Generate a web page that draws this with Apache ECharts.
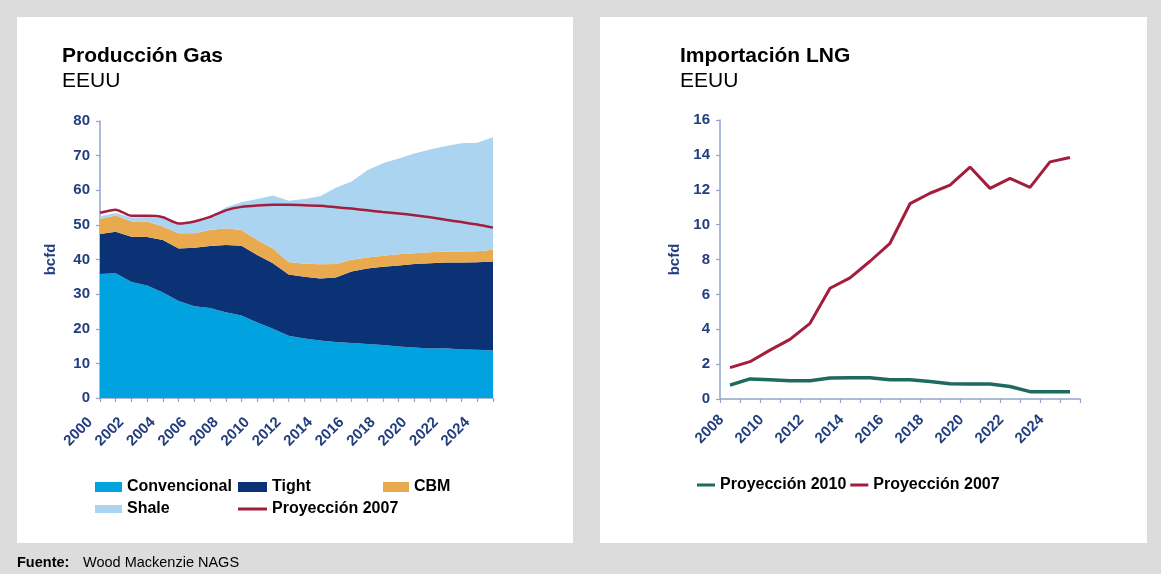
<!DOCTYPE html>
<html><head><meta charset="utf-8">
<script src="https://cdn.jsdelivr.net/npm/echarts@6/dist/echarts.min.js"></script>
<style>
html,body{margin:0;padding:0;background:#dcdcdc;}
#wrap{position:relative;width:1161px;height:574px;overflow:hidden;background:#dcdcdc;}
.panel{position:absolute;background:#fff;}
#chart{position:absolute;left:0;top:0;width:1161px;height:574px;}
</style></head><body>
<div id="wrap">
<div class="panel" style="left:17px;top:17px;width:556px;height:526px"></div>
<div class="panel" style="left:600px;top:17px;width:547px;height:526px"></div>
<div id="chart"></div>
</div>
<script>
// ---- data ----
const prodYears = ['2000','2001','2002','2003','2004','2005','2006','2007','2008','2009','2010','2011','2012','2013','2014','2015','2016','2017','2018','2019','2020','2021','2022','2023','2024','2025'];
const convencional = [35.8,36.0,33.5,32.5,30.5,28.0,26.5,26.0,24.8,23.8,21.8,20.0,18.0,17.2,16.6,16.2,15.9,15.6,15.3,14.9,14.6,14.3,14.4,14.0,13.9,13.7];
const tight = [11.6,12.0,13.1,14.0,15.1,15.2,16.9,17.9,19.4,20.2,19.5,18.9,17.7,17.8,17.9,18.6,20.6,21.8,22.6,23.4,24.1,24.6,24.7,25.1,25.3,25.7];
const cbm = [4.3,4.7,4.4,4.5,3.9,4.4,4.2,4.6,4.8,4.5,4.3,4.3,3.6,3.8,4.1,3.9,3.4,3.2,3.2,3.2,3.1,3.2,3.2,3.2,3.2,3.4];
const shale = [0.7,0.7,1.1,1.3,2.4,2.6,3.3,3.9,6.0,8.0,11.9,15.3,17.7,18.7,19.7,22.0,22.6,25.2,26.7,27.7,28.8,29.7,30.5,31.3,31.3,32.5];
const proy2007Prod = [53.5,54.4,52.6,52.6,52.2,50.4,51.0,52.3,54.2,55.2,55.6,55.8,55.8,55.7,55.5,55.1,54.7,54.2,53.7,53.3,52.8,52.2,51.5,50.8,50.1,49.2];

const lngYears = ['2008','2009','2010','2011','2012','2013','2014','2015','2016','2017','2018','2019','2020','2021','2022','2023','2024','2025'];
const lng2010 = [0.8,1.15,1.1,1.05,1.05,1.2,1.22,1.22,1.1,1.1,1.0,0.88,0.86,0.86,0.72,0.42,0.42,0.42];
const lng2007 = [1.8,2.14,2.8,3.42,4.34,6.35,6.95,7.9,8.93,11.2,11.8,12.27,13.3,12.08,12.65,12.14,13.6,13.85];

const prodTicks = [0,10,20,30,40,50,60,70,80];
const lngTicks = [0,2,4,6,8,10,12,14,16];

// ---- styles ----
const FONT = '"Liberation Sans", Arial, Helvetica, sans-serif';
const AXIS_TXT = '#233e7e';
const AXIS_LINE = '#8fa5cb';
const C_CONV = '#00a3e0';
const C_TIGHT = '#0c3276';
const C_CBM = '#e9a94f';
const C_SHALE = '#abd4f0';
const C_RED = '#a31d3d';
const C_GREEN = '#1e6a60';

const chart = echarts.init(document.getElementById('chart'), null, {renderer:'canvas'});

function xAxisCfg(grid, data, gap, margin, pad){
  return {
    gridIndex: grid, type:'category', data: data, boundaryGap: gap,
    axisLine:{show:true, lineStyle:{color:AXIS_LINE, width:1.5}},
    axisTick:{show:true, interval:0, length:4, lineStyle:{color:AXIS_LINE, width:1.2}},
    axisLabel:{interval:1, rotate:45, margin:margin, padding:[0,pad,0,0], color:AXIS_TXT,
      fontWeight:'bold', fontSize:15, fontFamily:FONT},
    splitLine:{show:false}
  };
}
function yAxisCfg(grid, ticks, gap){
  return {
    gridIndex: grid, type:'value', min: ticks[0], max: ticks[ticks.length-1], interval: ticks[1]-ticks[0],
    name:'bcfd', nameLocation:'middle', nameGap: gap,
    nameTextStyle:{color:AXIS_TXT, fontWeight:'bold', fontSize:15, fontFamily:FONT},
    axisLine:{show:true, lineStyle:{color:AXIS_LINE, width:1.5}},
    axisTick:{show:true, length:4, lineStyle:{color:AXIS_LINE, width:1.2}},
    axisLabel:{margin:10, color:AXIS_TXT, fontWeight:'bold', fontSize:15, fontFamily:FONT},
    splitLine:{show:false}
  };
}
function areaSeries(name, data, color){
  return {name:name, type:'line', xAxisIndex:0, yAxisIndex:0, stack:'prod', data:data,
    symbol:'none', showSymbol:false, lineStyle:{width:0, color:color}, itemStyle:{color:color},
    areaStyle:{color:color, opacity:1}, emphasis:{disabled:true}};
}
const legText = {color:'#000', fontSize:16, fontWeight:'bold', fontFamily:FONT};
function leg(left, top, w, h, names){
  return {left:left, top:top, padding:0, itemWidth:w, itemHeight:h, itemGap:4, selectedMode:false,
    orient:'horizontal', textStyle:legText,
    data: names.map(n => ({name:n, icon:'rect'}))};
}

const option = {
  animation:false,
  textStyle:{fontFamily:FONT},
  grid:[
    {left:100, top:121, width:393, height:277, outerBoundsMode:'none'},
    {left:720, top:120, width:360, height:279, outerBoundsMode:'none'}
  ],
  xAxis:[ xAxisCfg(0, prodYears, false, 12, 14), xAxisCfg(1, lngYears, true, 10, 12) ],
  yAxis:[ yAxisCfg(0, prodTicks, 42), yAxisCfg(1, lngTicks, 38) ],
  legend:[
    leg(95, 479, 27, 10, ['Convencional']),
    leg(238, 479, 29, 10, ['Tight']),
    leg(383, 479, 26, 10, ['CBM']),
    leg(95, 501, 27, 8, ['Shale']),
    leg(238, 501, 29, 3, ['Proyección 2007']),
    leg(697, 477, 18, 3, ['Proyección 2010','Proyección 2007'])
  ],
  series:[
    areaSeries('Convencional', convencional, C_CONV),
    areaSeries('Tight', tight, C_TIGHT),
    areaSeries('CBM', cbm, C_CBM),
    areaSeries('Shale', shale, C_SHALE),
    {name:'Proyección 2007', type:'line', xAxisIndex:0, yAxisIndex:0, data:proy2007Prod,
      symbol:'none', smooth:0.2, lineStyle:{width:2.5, color:C_RED}, itemStyle:{color:C_RED}, z:5},
    {name:'Proyección 2010', type:'line', xAxisIndex:1, yAxisIndex:1, data:lng2010,
      symbol:'none', lineStyle:{width:3.5, color:C_GREEN}, itemStyle:{color:C_GREEN}},
    {name:'Proyección 2007', type:'line', xAxisIndex:1, yAxisIndex:1, data:lng2007,
      symbol:'none', lineStyle:{width:3, color:C_RED}, itemStyle:{color:C_RED}}
  ],
  graphic:[
    {type:'text', left:62, top:46, style:{text:'Producción Gas', font:'bold 21px '+FONT, fill:'#000'}},
    {type:'text', left:62, top:71, style:{text:'EEUU', font:'21px '+FONT, fill:'#000'}},
    {type:'text', left:680, top:46, style:{text:'Importación LNG', font:'bold 21px '+FONT, fill:'#000'}},
    {type:'text', left:680, top:71, style:{text:'EEUU', font:'21px '+FONT, fill:'#000'}},
    {type:'text', left:17, top:555, style:{text:'Fuente:', font:'bold 14.5px '+FONT, fill:'#000'}},
    {type:'text', left:83, top:555, style:{text:'Wood Mackenzie NAGS', font:'14.5px '+FONT, fill:'#000'}}
  ]
};
chart.setOption(option);
</script>
</body></html>
